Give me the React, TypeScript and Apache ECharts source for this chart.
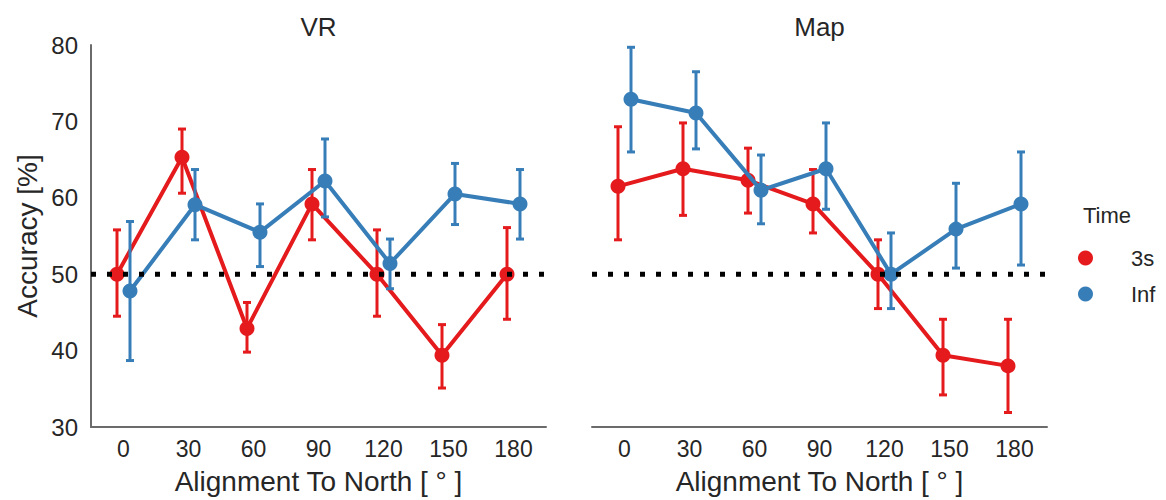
import React, { useEffect, useRef } from "react";
import * as echarts from "echarts";

const categories = ["0", "30", "60", "90", "120", "150", "180"];
const panelTitles = ["VR", "Map"];
const hueNames = ["3s", "Inf"];
const hueColors = ["#e41a1c", "#377eb8"];
const yTicks = { min: 30, max: 80, interval: 10 };
const chanceLevel = 50;
const dodge = 0.1;

// VR panel
const vr3sMean = [50.0, 65.3, 42.9, 59.2, 50.0, 39.4, 50.0];
const vr3sLow = [44.5, 60.6, 39.8, 54.5, 44.5, 35.1, 44.1];
const vr3sHigh = [55.8, 69.0, 46.3, 63.7, 55.8, 43.4, 56.1];
const vrInfMean = [47.8, 59.1, 55.5, 62.2, 51.4, 60.5, 59.2];
const vrInfLow = [38.7, 54.5, 51.0, 57.5, 48.1, 56.5, 54.6];
const vrInfHigh = [56.9, 63.7, 59.2, 67.7, 54.6, 64.5, 63.7];

// Map panel
const map3sMean = [61.5, 63.8, 62.3, 59.2, 50.0, 39.4, 38.0];
const map3sLow = [54.5, 57.7, 58.0, 55.4, 45.5, 34.2, 31.9];
const map3sHigh = [69.3, 69.8, 66.5, 63.7, 54.5, 44.1, 44.1];
const mapInfMean = [72.9, 71.1, 61.0, 63.8, 50.0, 55.9, 59.2];
const mapInfLow = [66.0, 66.4, 56.6, 58.5, 45.5, 50.8, 51.2];
const mapInfHigh = [79.7, 76.5, 65.6, 69.8, 55.4, 61.9, 66.0];

const panelData = [
  [
    { mean: vr3sMean, low: vr3sLow, high: vr3sHigh },
    { mean: vrInfMean, low: vrInfLow, high: vrInfHigh },
  ],
  [
    { mean: map3sMean, low: map3sLow, high: map3sHigh },
    { mean: mapInfMean, low: mapInfLow, high: mapInfHigh },
  ],
];

const FONT = "'Liberation Sans', Arial, Helvetica, sans-serif";
const TEXT = "#262626";
const AXIS = "#6b6b6b";

export default function App() {
  const ref = useRef<HTMLDivElement>(null);

  useEffect(() => {
    if (!ref.current) return;
    const chart = echarts.init(ref.current, undefined, { renderer: "svg" });

    const grids = [
      { left: 91, top: 45, width: 455, height: 383 },
      { left: 592, top: 45, width: 455, height: 383 },
    ];

    const xAxes = grids.map((_, gi) => ({
      type: "value",
      gridIndex: gi,
      min: -0.5,
      max: categories.length - 0.5,
      splitLine: { show: false },
      axisTick: { show: false },
      axisLine: { show: true, onZero: false, lineStyle: { color: AXIS, width: 2 } },
      axisLabel: {
        customValues: categories.map((_, i) => i),
        formatter: (v: number) => categories[Math.round(v)],
        fontSize: 23,
        fontFamily: FONT,
        color: TEXT,
        margin: 10,
      },
      name: "Alignment To North [ ° ]",
      nameLocation: "middle",
      nameGap: 40,
      nameTextStyle: { fontSize: 28, fontFamily: FONT, color: TEXT },
    }));

    const yAxes = grids.map((_, gi) => ({
      type: "value",
      gridIndex: gi,
      min: yTicks.min,
      max: yTicks.max,
      interval: yTicks.interval,
      splitLine: { show: false },
      axisTick: { show: false },
      axisLine: { show: gi === 0, onZero: false, lineStyle: { color: AXIS, width: 2 } },
      axisLabel: {
        show: gi === 0,
        fontSize: 24,
        fontFamily: FONT,
        color: TEXT,
        margin: 13,
      },
      name: gi === 0 ? "Accuracy [%]" : "",
      nameLocation: "middle",
      nameGap: 50,
      nameTextStyle: { fontSize: 28, fontFamily: FONT, color: TEXT },
    }));

    const series: any[] = [];
    panelData.forEach((hues, gi) => {
      hues.forEach((h, hi) => {
        const off = hi === 0 ? -dodge : dodge;
        const color = hueColors[hi];
        series.push({
          type: "custom",
          name: hueNames[hi],
          xAxisIndex: gi,
          yAxisIndex: gi,
          z: 2 + hi * 2,
          data: h.mean.map((_, i) => [i + off, h.low[i], h.high[i]]),
          renderItem: (params: any, api: any) => {
            const x = api.value(0);
            const lo = api.coord([x, api.value(1)]);
            const hiP = api.coord([x, api.value(2)]);
            const cap = 4;
            const style = { stroke: color, lineWidth: 3 };
            return {
              type: "group",
              children: [
                { type: "line", shape: { x1: lo[0], y1: lo[1], x2: hiP[0], y2: hiP[1] }, style },
                { type: "line", shape: { x1: lo[0] - cap, y1: lo[1], x2: lo[0] + cap, y2: lo[1] }, style },
                { type: "line", shape: { x1: hiP[0] - cap, y1: hiP[1], x2: hiP[0] + cap, y2: hiP[1] }, style },
              ],
            };
          },
          silent: true,
        });
        series.push({
          type: "line",
          name: hueNames[hi],
          xAxisIndex: gi,
          yAxisIndex: gi,
          z: 3 + hi * 2,
          data: h.mean.map((v, i) => [i + off, v]),
          symbol: "circle",
          symbolSize: 15,
          itemStyle: { color },
          lineStyle: { color, width: 4 },
          silent: true,
        });
      });
      series.push({
        type: "line",
        xAxisIndex: gi,
        yAxisIndex: gi,
        z: 10,
        data: [
          [-0.5, chanceLevel],
          [categories.length - 0.5, chanceLevel],
        ],
        symbol: "none",
        lineStyle: { color: "#000", width: 5, type: [5, 11], cap: "butt" },
        silent: true,
      });
    });

    chart.setOption({
      animation: false,
      grid: grids,
      xAxis: xAxes,
      yAxis: yAxes,
      series,
      legend: {
        data: hueNames.map((n, i) => ({ name: n, icon: "circle", itemStyle: { color: hueColors[i] } })),
        orient: "vertical",
        left: 1073,
        top: 242,
        itemWidth: 15,
        itemHeight: 15,
        itemGap: 14,
        textStyle: { fontSize: 22, fontFamily: FONT, color: TEXT, lineHeight: 22, padding: [0, 0, 0, 33] },
        selectedMode: false,
      },
      graphic: [
        ...panelTitles.map((t, i) => ({
          type: "text",
          x: grids[i].left + grids[i].width / 2,
          y: 27,
          style: { text: t, fontSize: 26, fontFamily: FONT, fill: TEXT, textAlign: "center", textVerticalAlign: "middle" },
        })),
        {
          type: "text",
          x: 1083,
          y: 215,
          style: { text: "Time", fontSize: 22, fontFamily: FONT, fill: TEXT, textAlign: "left", textVerticalAlign: "middle" },
        },
      ],
    });

    return () => chart.dispose();
  }, []);

  return (
    <div
      ref={ref}
      style={{ position: "absolute", left: 0, top: 0, width: 1166, height: 500 }}
    />
  );
}
